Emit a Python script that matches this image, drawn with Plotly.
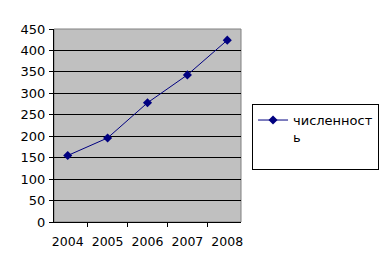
import plotly.graph_objects as go

years = ["2004", "2005", "2006", "2007", "2008"]
values = [155, 196, 278, 343, 424]
series_name = "численност<br>ь<br> "
y_ticks = [0, 50, 100, 150, 200, 250, 300, 350, 400, 450]

fig = go.Figure()
fig.add_trace(go.Scatter(
    x=years, y=values, mode="lines+markers", name=series_name,
    line=dict(color="#000080", width=1),
    marker=dict(symbol="diamond", size=7, color="#000080"),
))

font = dict(family="DejaVu Sans", size=13, color="black")
xfont = dict(family="DejaVu Sans", size=12.5, color="black")
fig.update_layout(
    width=389, height=271,
    margin=dict(l=54, r=148, t=29, b=49, autoexpand=False),
    paper_bgcolor="white", plot_bgcolor="#C0C0C0",
    font=font,
    showlegend=True,
    legend=dict(x=1.059, y=0.611, xanchor="left", yanchor="top",
                bordercolor="black", borderwidth=1, bgcolor="white",
                itemwidth=30, valign="top",
                font=dict(family="DejaVu Sans", size=13, color="black")),
    xaxis=dict(type="category", showgrid=False, showline=True, linecolor="black",
               linewidth=1, ticks="outside", ticklen=4, tickcolor="black",
               tickson="boundaries", ticklabelstandoff=8, mirror=False,
               tickangle=0, automargin=False, tickfont=xfont),
    yaxis=dict(range=[0, 450], tickvals=y_ticks, showgrid=True, gridcolor="black",
               gridwidth=1, showline=True, linecolor="black", linewidth=1,
               ticks="outside", ticklen=4, tickcolor="black", zeroline=False,
               automargin=False, tickfont=font, ticklabelstandoff=1),
)
fig.add_shape(type="rect", xref="paper", yref="paper", x0=0, x1=1, y0=0, y1=1,
              line=dict(color="#808080", width=1), layer="below")
fig.write_html("out.html")
